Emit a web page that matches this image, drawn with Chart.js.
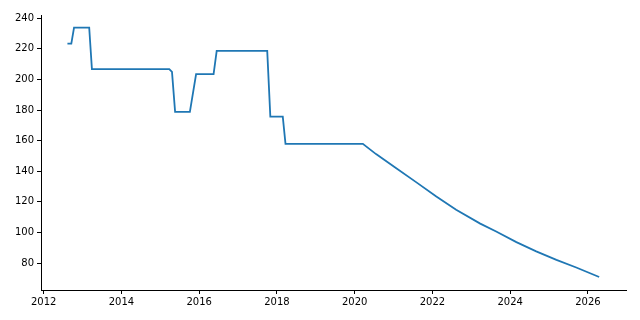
<!DOCTYPE html>
<html>
<head>
<meta charset="utf-8">
<script src="https://cdn.jsdelivr.net/npm/chart.js@4.4.1/dist/chart.umd.min.js"></script>
<style>
  html, body { margin: 0; padding: 0; background: #fff; }
  #wrap { width: 640px; height: 320px; }
</style>
</head>
<body>
<div id="wrap"><canvas id="chart" width="640" height="320"></canvas></div>
<script>
// values (x = fractional year)
const years = [2012.61, 2012.71, 2012.78, 2013.17, 2013.24, 2015.23, 2015.30, 2015.38,
               2015.76, 2015.92, 2016.37, 2016.45, 2017.75, 2017.83, 2018.15, 2018.22,
               2020.21, 2020.55, 2021.07, 2021.58, 2022.10, 2022.61, 2023.23, 2023.64,
               2024.16, 2024.67, 2025.19, 2025.70, 2026.29];
const values = [223.4, 223.4, 233.9, 233.9, 206.7, 206.7, 204.9, 178.8,
                178.8, 203.4, 203.4, 218.6, 218.6, 175.7, 175.7, 157.9,
                157.9, 151.2, 142.0, 132.9, 123.5, 114.8, 105.8, 100.6,
                93.7, 87.6, 82.1, 77.1, 70.9];
const xTicks = [2012, 2014, 2016, 2018, 2020, 2022, 2024, 2026];
const yTicks = [80, 100, 120, 140, 160, 180, 200, 220, 240];

const points = years.map((x, i) => ({ x: x, y: values[i] }));

const tickFont = { family: 'DejaVu Sans', size: 10 };

new Chart(document.getElementById('chart').getContext('2d'), {
    type: 'line',
    data: {
        datasets: [{
            data: points,
            borderColor: '#1f77b4',
            borderWidth: 1.8,
            pointRadius: 0,
            tension: 0,
            fill: false
        }]
    },
    options: {
        responsive: false,
        animation: false,
        layout: { padding: { top: 15, right: 14, left: 0, bottom: 0 } },
        plugins: { legend: { display: false }, tooltip: { enabled: false } },
        scales: {
            x: {
                type: 'linear',
                min: 2011.93,
                max: 2026.98,
                afterBuildTicks: s => { s.ticks = xTicks.map(v => ({ value: v })); },
                afterFit: s => { s.height = 30; },
                grid: { drawOnChartArea: false, drawTicks: true, tickLength: 4, color: '#000' },
                border: { display: true, color: '#000', width: 1 },
                ticks: { font: tickFont, color: '#000', padding: 2, maxRotation: 0,
                         callback: v => String(v) }
            },
            y: {
                type: 'linear',
                min: 62.4,
                max: 242.1,
                afterBuildTicks: s => { s.ticks = yTicks.map(v => ({ value: v })); },
                afterFit: s => { s.width = 41; },
                grid: { drawOnChartArea: false, drawTicks: true, tickLength: 4, color: '#000' },
                border: { display: true, color: '#000', width: 1 },
                ticks: { font: tickFont, color: '#000', padding: 3 }
            }
        }
    }
});
</script>
</body>
</html>
